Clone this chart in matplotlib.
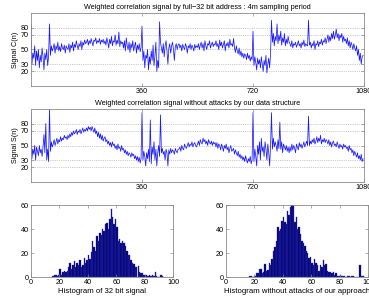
import numpy as np
import matplotlib
matplotlib.use("Agg")
import matplotlib.pyplot as plt

# ---- data (one value per 3 samples) ----
step = 3
signal_c = [85, 30, 45, 38, 55, 28, 48, 35, 50, 25, 42, 33, 52, 40, 22, 45, 36, 50, 28, 40,
            85, 42, 55, 48, 52, 58, 45, 55, 50, 60, 48, 54, 47, 58, 52, 50, 56, 45, 55, 52,
            50, 58, 46, 56, 52, 60, 48, 57, 53, 62, 55, 50, 58, 54, 62, 50, 60, 56, 63, 58,
            60, 64, 56, 62, 58, 65, 60, 55, 63, 61, 66, 58, 62, 60, 65, 57, 63, 60, 64, 58,
            62, 56, 66, 60, 52, 64, 58, 68, 55, 62, 60, 70, 56, 63, 58, 74, 54, 62, 58, 60,
            52, 62, 48, 66, 55, 50, 60, 46, 58, 52, 62, 48, 55, 60, 45, 56, 50, 58, 47, 53,
            82, 35, 48, 25, 42, 38, 50, 22, 40, 30, 48, 35, 56, 28, 42, 60, 20, 35, 25, 88,
            60, 52, 45, 58, 40, 55, 62, 48, 30, 52, 58, 45, 55, 60, 50, 35, 54, 58, 50, 56,
            58, 52, 56, 48, 57, 53, 50, 58, 54, 45, 55, 52, 58, 50, 56, 53, 48, 57, 52, 55,
            53, 58, 50, 56, 60, 52, 58, 48, 62, 55, 50, 58, 56, 62, 52, 57, 60, 54, 58, 56,
            62, 54, 58, 50, 63, 55, 60, 52, 57, 62, 48, 58, 55, 60, 52, 64, 56, 58, 54, 65,
            52, 46, 55, 48, 44, 52, 42, 48, 40, 45, 38, 44, 42, 36, 45, 38, 42, 34, 40, 36,
            75, 28, 40, 32, 22, 38, 30, 36, 25, 40, 30, 20, 35, 28, 42, 18, 30, 38, 25, 45,
            90, 60, 72, 55, 68, 62, 85, 58, 70, 62, 75, 56, 66, 60, 72, 55, 64, 58, 68, 60,
            58, 54, 62, 52, 58, 56, 60, 53, 57, 62, 55, 58, 52, 60, 56, 63, 54, 58, 56, 55,
            90, 56, 60, 52, 58, 55, 62, 50, 58, 56, 62, 54, 60, 58, 64, 56, 62, 60, 66, 58,
            64, 70, 60, 68, 62, 72, 65, 75, 64, 70, 78, 66, 72, 62, 70, 66, 72, 60, 68, 62,
            64, 58, 66, 55, 62, 52, 60, 56, 50, 58, 52, 48, 55, 42, 50, 35, 45, 30, 40, 42]

signal_s = [95, 32, 45, 38, 50, 30, 48, 42, 36, 50, 40, 45, 35, 48, 65, 40, 80, 30, 45, 28,
            100, 42, 55, 48, 52, 58, 50, 55, 60, 52, 58, 55, 62, 56, 60, 58, 64, 60, 62, 58,
            64, 60, 66, 62, 68, 64, 70, 66, 68, 72, 65, 70, 68, 72, 66, 70, 74, 68, 72, 70,
            74, 70, 76, 72, 75, 70, 76, 72, 68, 74, 66, 70, 62, 68, 60, 66, 58, 64, 56, 60,
            62, 55, 58, 52, 56, 50, 54, 48, 55, 50, 52, 46, 50, 44, 52, 46, 48, 42, 50, 44,
            46, 40, 44, 38, 42, 36, 40, 38, 34, 40, 36, 38, 32, 36, 30, 35, 28, 34, 26, 32,
            95, 30, 42, 35, 22, 40, 32, 45, 28, 85, 25, 48, 38, 55, 30, 45, 22, 40, 50, 35,
            92, 40, 46, 38, 42, 30, 45, 40, 22, 44, 38, 46, 40, 44, 42, 38, 46, 42, 40, 45,
            45, 48, 42, 50, 46, 44, 52, 48, 46, 50, 54, 48, 52, 50, 55, 48, 52, 54, 50, 48,
            52, 56, 50, 58, 54, 52, 60, 55, 58, 52, 56, 50, 58, 54, 52, 56, 50, 55, 52, 54,
            48, 54, 46, 52, 50, 44, 52, 48, 42, 50, 46, 52, 44, 48, 40, 46, 50, 42, 44, 46,
            38, 44, 40, 36, 42, 34, 38, 32, 36, 30, 34, 28, 36, 30, 26, 32, 28, 35, 25, 30,
            95, 28, 45, 35, 22, 50, 38, 55, 30, 60, 42, 48, 35, 55, 45, 30, 52, 40, 22, 50,
            95, 45, 60, 48, 55, 50, 42, 58, 46, 82, 45, 55, 40, 52, 48, 44, 50, 42, 48, 40,
            48, 42, 52, 44, 50, 46, 40, 52, 48, 44, 54, 48, 52, 46, 50, 55, 48, 52, 56, 50,
            90, 50, 56, 52, 58, 54, 60, 52, 56, 62, 54, 60, 56, 64, 52, 58, 55, 60, 54, 58,
            56, 52, 58, 50, 55, 48, 54, 56, 50, 52, 48, 55, 50, 46, 52, 48, 50, 45, 52, 48,
            50, 46, 48, 42, 50, 44, 46, 40, 44, 36, 42, 38, 34, 40, 32, 36, 30, 38, 28, 32]

hist1_bins = list(range(15, 94))
hist1_counts = [1, 2, 2, 1, 2, 7, 2, 4, 5, 4, 5, 8, 12, 7, 10, 13, 8, 12, 10, 14,
                8, 10, 16, 12, 14, 18, 15, 21, 30, 25, 22, 34, 30, 37, 35, 40, 38,
                44, 45, 40, 48, 57, 50, 44, 48, 42, 30, 32, 28, 30, 28, 26, 22, 18,
                18, 14, 12, 11, 8, 8, 9, 4, 3, 3, 2, 2, 2, 1, 2, 1, 2, 1, 4, 1, 0,
                0, 2, 1, 0]

hist2_bins = list(range(16, 98))
hist2_counts = [1, 1, 0, 0, 1, 3, 3, 7, 7, 3, 4, 11, 5, 6, 12, 10, 15, 22, 25, 30,
                42, 38, 40, 47, 50, 46, 44, 55, 52, 58, 62, 60, 46, 50, 40, 42, 36,
                30, 28, 26, 22, 20, 16, 17, 12, 10, 15, 12, 10, 5, 10, 8, 14, 10, 11,
                5, 4, 4, 3, 4, 2, 3, 1, 1, 2, 1, 1, 1, 0, 1, 1, 0, 1, 1, 0, 0, 0, 0,
                10, 1, 1, 0]

signal_ticks = [360, 720, 1080]
signal_yticks = [20, 30, 50, 70, 80]
hist_xticks = [0, 20, 40, 60, 80, 100]
hist_yticks = [0, 20, 40, 60]

# ---- figure ----
W, H = 369, 300
fig = plt.figure(figsize=(W / 100, H / 100), dpi=100)
plt.rcParams['font.family'] = ['Liberation Sans', 'DejaVu Sans']
fs = 5.2
spine_col = '#8a8a8a'

def ax_at(x0, y0, x1, y1):
    return fig.add_axes([x0 / W, 1 - y1 / H, (x1 - x0) / W, (y1 - y0) / H])

def style(ax):
    for s in ax.spines.values():
        s.set_color(spine_col)
        s.set_linewidth(0.6)
    ax.tick_params(direction='in', length=2, width=0.5, color=spine_col,
                   labelsize=fs, pad=1.5, top=True, right=True)

def signal_panel(ax, data, title, ylabel):
    n = np.arange(len(data)) * step
    ax.plot(n, data, color='#1a1aff', lw=0.55)
    ax.set_xlim(0, 1080)
    ax.set_ylim(0, 100)
    ax.set_xticks(signal_ticks)
    ax.set_yticks(signal_yticks)
    ax.yaxis.grid(True, linestyle=':', color='#999999', lw=0.5)
    ax.set_title(title, fontsize=fs, pad=3)
    ax.set_ylabel(ylabel, fontsize=fs, labelpad=1)
    style(ax)

ax1 = ax_at(31, 13, 364, 86)
signal_panel(ax1, signal_c,
             'Weighted correlation signal by full\u221232 bit address : 4m sampling period',
             'Signal C(n)')
ax2 = ax_at(31, 109, 364, 182)
signal_panel(ax2, signal_s,
             'Weighted correlation signal without attacks by our data structure',
             'Signal S(n)')

def hist_panel(ax, bins, counts, xlabel):
    ax.bar(bins, counts, width=1.0, align='edge', color='#000060',
           edgecolor='#3030d8', linewidth=0.25)
    ax.set_xlim(0, 100)
    ax.set_ylim(0, 60)
    ax.set_xticks(hist_xticks)
    ax.set_yticks(hist_yticks)
    ax.set_xlabel(xlabel, fontsize=fs + 0.4, labelpad=1.5)
    style(ax)

ax3 = ax_at(31, 205, 173, 277)
hist_panel(ax3, hist1_bins, hist1_counts, 'Histogram of 32 bit signal')
ax4 = ax_at(226, 205, 368, 277)
hist_panel(ax4, hist2_bins, hist2_counts, 'Histogram without attacks of our approach')

fig.savefig('out.png', dpi=100)
